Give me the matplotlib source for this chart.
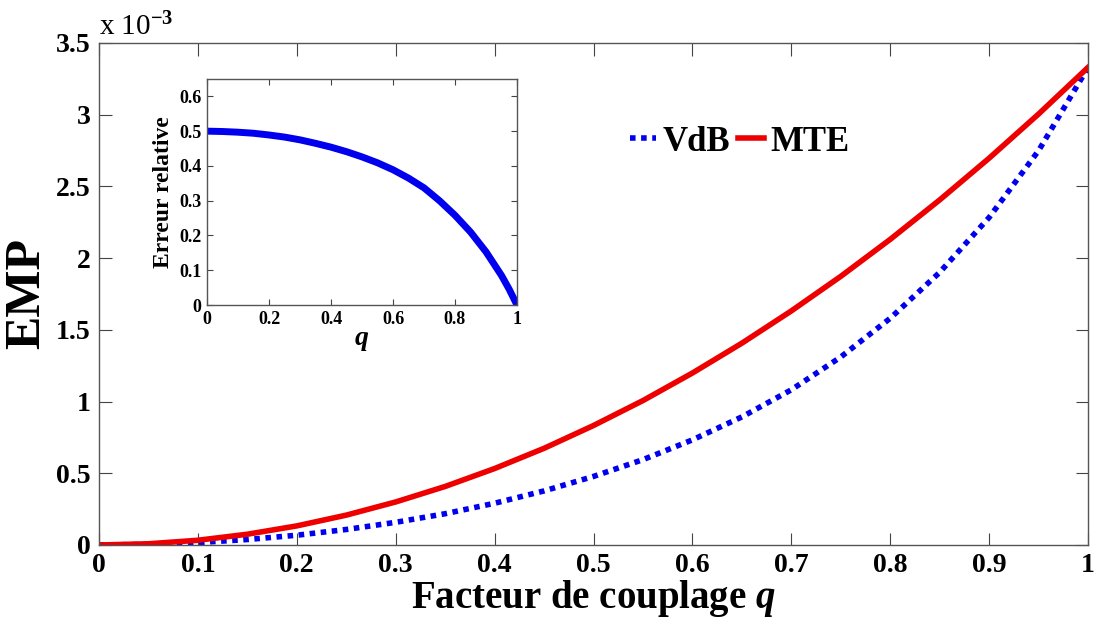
import matplotlib
matplotlib.use("Agg")
import matplotlib.pyplot as plt

plt.rcParams["font.family"] = ["Liberation Serif", "DejaVu Serif"]
plt.rcParams["font.weight"] = "bold"
plt.rcParams["axes.labelweight"] = "bold"
plt.rcParams["mathtext.fontset"] = "custom"
plt.rcParams["mathtext.rm"] = "Liberation Serif"
plt.rcParams["mathtext.it"] = "Liberation Serif:italic:bold"
plt.rcParams["mathtext.bf"] = "Liberation Serif:bold"

# coupling factor q
q = [0.0, 0.05, 0.10, 0.15, 0.20, 0.25, 0.30, 0.35, 0.40, 0.45, 0.50,
     0.55, 0.60, 0.65, 0.70, 0.75, 0.80, 0.85, 0.90, 0.95, 1.0]
# EMP in units of 1e-3
emp_mte = [0.0, 0.0083, 0.033, 0.075, 0.133, 0.208, 0.300, 0.408, 0.533, 0.674, 0.833,
           1.007, 1.199, 1.407, 1.632, 1.873, 2.131, 2.406, 2.697, 3.005, 3.33]
emp_vdb = [0.0, 0.0042, 0.0166, 0.038, 0.068, 0.108, 0.158, 0.218, 0.291, 0.377, 0.478,
           0.595, 0.733, 0.893, 1.082, 1.311, 1.581, 1.901, 2.284, 2.750, 3.33]

# inset: relative error
q_err = [0.0, 0.05, 0.10, 0.15, 0.20, 0.25, 0.30, 0.35, 0.40, 0.45, 0.50,
         0.55, 0.60, 0.65, 0.70, 0.75, 0.80, 0.85, 0.90, 0.95, 0.975, 1.0]
err_rel = [0.500, 0.499, 0.497, 0.494, 0.489, 0.483, 0.475, 0.465, 0.454, 0.441, 0.426,
           0.409, 0.389, 0.365, 0.337, 0.300, 0.258, 0.210, 0.153, 0.085, 0.045, 0.0]

main_xticks = [0, 0.1, 0.2, 0.3, 0.4, 0.5, 0.6, 0.7, 0.8, 0.9, 1]
main_xlabels = ["0", "0.1", "0.2", "0.3", "0.4", "0.5", "0.6", "0.7", "0.8", "0.9", "1"]
main_yticks = [0, 0.5, 1, 1.5, 2, 2.5, 3, 3.5]
main_ylabels = ["0", "0.5", "1", "1.5", "2", "2.5", "3", "3.5"]
inset_xticks = [0, 0.2, 0.4, 0.6, 0.8, 1]
inset_xlabels = ["0", "0.2", "0.4", "0.6", "0.8", "1"]
inset_yticks = [0, 0.1, 0.2, 0.3, 0.4, 0.5, 0.6]
inset_ylabels = ["0", "0.1", "0.2", "0.3", "0.4", "0.5", "0.6"]

fig = plt.figure(figsize=(10.96, 6.28), dpi=100)
ax = fig.add_axes([0.0903, 0.1322, 0.9025, 0.7994])

l_vdb, = ax.plot(q, emp_vdb, color="#0000ee", linewidth=4, linestyle=(0, (1, 1)), label="VdB")
l_mte, = ax.plot(q, emp_mte, color="#ee0000", linewidth=4, label="MTE")

ax.set_xlim(0, 1)
ax.set_ylim(0, 3.5)
ax.set_xticks(main_xticks)
ax.set_xticklabels(main_xlabels)
ax.set_yticks(main_yticks)
ax.set_yticklabels(main_ylabels)
ax.tick_params(direction="in", length=9, width=0.8, color="#444444",
               top=True, right=True, labelsize=20, pad=6)
for s in ax.spines.values():
    s.set_color("#555555")
    s.set_linewidth(1.0)

ax.set_xlabel("Facteur de couplage $q$", fontsize=28, fontweight="bold", labelpad=0)
ax.set_ylabel("EMP", fontsize=36, fontweight="bold", labelpad=4)
ax.text(0.0, 1.003, r"x 10$^{-3}$", transform=ax.transAxes, fontsize=21,
        fontweight="normal", ha="left", va="bottom")

fig.legend(handles=[l_vdb, l_mte], loc="center left",
           bbox_to_anchor=(630 / 1096, 1 - 142 / 628), ncol=2, frameon=False,
           fontsize=25, handlelength=0.75, handletextpad=0.2, columnspacing=0.2,
           borderpad=0, borderaxespad=0)

# inset
ins = fig.add_axes([0.1889, 0.5143, 0.2828, 0.3599])
ins.plot(q_err, err_rel, color="#0000ee", linewidth=5)
ins.set_xlim(0, 1)
ins.set_ylim(0, 0.65)
ins.set_xticks(inset_xticks)
ins.set_xticklabels(inset_xlabels)
ins.set_yticks(inset_yticks)
ins.set_yticklabels(inset_ylabels)
ins.tick_params(direction="in", length=4, width=0.8, color="#444444",
                top=True, right=True, labelsize=13, pad=4)
for s in ins.spines.values():
    s.set_color("#555555")
    s.set_linewidth(1.0)
ins.set_xlabel("$q$", fontsize=20, labelpad=0)
ins.set_ylabel("Erreur relative", fontsize=17, fontweight="bold", labelpad=4)

fig.savefig("out.png", dpi=100)
